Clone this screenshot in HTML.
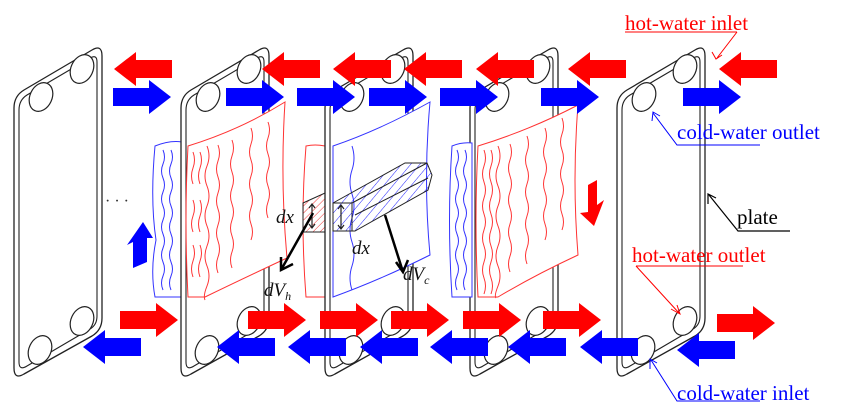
<!DOCTYPE html>
<html><head><meta charset="utf-8"><style>
html,body{margin:0;padding:0;background:#fff;}
svg{display:block;font-family:"Liberation Serif",serif;}
</style></head><body>
<svg width="850" height="419" viewBox="0 0 850 419" xmlns="http://www.w3.org/2000/svg">
<defs>
<path id="ar" d="M0,-9 H36 V-17 L58,0 L36,17 V9 H0 Z"/>
<g id="plate">
<path d="M0,62 Q0,50 10,44 L78,4 Q88,-2 88,10 L88,272 Q88,284 78,290 L10,328 Q0,334 0,322 Z" fill="#fff" stroke="#222" stroke-width="1.3"/>
<path d="M5,64 Q5,54 13,49 L76,12 Q83,8 83,16 L83,270 Q83,279 76,283 L13,320 Q5,325 5,316 Z" fill="none" stroke="#222" stroke-width="1.1"/>
<g fill="#fff" stroke="#222" stroke-width="1.2">
<ellipse cx="68" cy="23" rx="11" ry="15" transform="rotate(25 68 23)"/>
<ellipse cx="27" cy="51" rx="11" ry="15" transform="rotate(25 27 51)"/>
<ellipse cx="68" cy="275" rx="11" ry="15" transform="rotate(25 68 275)"/>
<ellipse cx="26" cy="304" rx="11" ry="15" transform="rotate(25 26 304)"/>
</g>
</g>
<pattern id="hr" width="5" height="5" patternUnits="userSpaceOnUse" patternTransform="rotate(45)"><line x1="0" y1="0" x2="0" y2="5" stroke="#e33" stroke-width="1"/></pattern>
<pattern id="hb" width="7" height="7" patternUnits="userSpaceOnUse" patternTransform="rotate(40)"><line x1="0" y1="0" x2="0" y2="7" stroke="#22f" stroke-width="1"/></pattern>
</defs>

<use href="#plate" x="14" y="46"/>
<path d="M155,146 Q170,140 182,142 L182,297 L155,297 Q150,270 156,240 Q150,200 155,146 Z" fill="#fff" stroke="#33f" stroke-width="1"/>
<g stroke="#33f" fill="none" stroke-width="1">
<path d="M163,150 q3,7 0,14 t0,14 t0,14 t0,14 t0,14 t0,14 t0,14 t0,14 t0,14 t0,14"/>
<path d="M171,150 q3,7 0,14 t0,14 t0,14 t0,14 t0,14 t0,14 t0,14 t0,14 t0,14 t0,14"/>
</g>
<use href="#plate" x="181" y="46"/>
<path d="M188,146 Q240,130 285,102 Q280,180 287,258 Q240,280 205,297 L188,297 Q184,220 188,146 Z" fill="#fff" stroke="#f33" stroke-width="1"/>
<g stroke="#f33" fill="none" stroke-width="1">
<path d="M207,146 q4,10 0,20 t0,20 t0,20 t0,20 t0,20 t0,20 t0,20 t-2,14"/>
<path d="M193,152 q3,8 0,16 t0,16"/><path d="M200,152 q3,8 0,16 t0,16"/>
<path d="M193,200 q3,8 0,16 t0,16"/><path d="M200,200 q3,8 0,16 t0,16"/>
<path d="M193,245 q3,8 0,16 t0,16"/><path d="M200,245 q3,8 0,16 t0,16"/>
<path d="M218,145 q3,8 0,16 t0,16 t0,16 t0,16 t0,16 t0,16 t0,16 t0,16"/>
<path d="M232,140 q3,8 0,16 t0,16 t0,16 t0,16 t0,16 t0,16 t0,16 t0,16"/>
<path d="M251,128 q3,8 0,16 t0,16 t0,16 t0,16 t0,16 t0,16 t0,16"/>
<path d="M268,122 q3,8 0,16 t0,16 t0,16 t0,16 t0,16 t0,16"/>
</g>
<path d="M306,146 Q315,144 325,146 L325,297 L306,297 Q300,220 306,146 Z" fill="#fff" stroke="#f33" stroke-width="1"/>
<use href="#plate" x="325" y="46"/>
<path d="M333,146 Q380,130 430,102 Q423,180 430,255 Q380,280 333,297 Z" fill="#fff" stroke="#33f" stroke-width="1"/>
<path d="M352,146 q4,12 0,24 t0,24 t0,24 t0,24 t0,24 t0,24" stroke="#33f" fill="none"/>
<path d="M303,203 L325,193 L325,232 L303,232 Z" fill="url(#hr)" stroke="#222"/>
<path d="M333,203 L405,163 L427,163 L432,175 L428,190 L355,231 L333,231 Z" fill="url(#hb)" stroke="#222"/>
<path d="M333,203 L352,203 L352,231 M352,203 L427,163 M355,215 L428,178" stroke="#222" fill="none"/>
<g stroke="#222" stroke-width="1.2" fill="none">
<path d="M312,205 V227 M309,208 L312,204 L315,208 M309,224 L312,228 L315,224"/>
<path d="M341,206 V228 M338,209 L341,205 L344,209 M338,225 L341,229 L344,225"/>
</g>
<g stroke="#000" stroke-width="2.5" fill="none">
<path d="M313,213 L281,270 M281,257 L281,270 L293,264"/>
<path d="M385,215 L403,272 M396,262 L403,272 L408,260"/>
</g>
<g font-style="italic" font-size="19" fill="#111">
<text x="276" y="223">dx</text>
<text x="352" y="254">dx</text>
<text x="264" y="296">dV<tspan font-size="12" dy="4">h</tspan></text>
<text x="403" y="280">dV<tspan font-size="12" dy="4">c</tspan></text>
</g>
<use href="#plate" x="470" y="46"/>
<path d="M452,146 Q462,142 472,143 L472,297 L452,297 Q447,220 452,146 Z" fill="#fff" stroke="#33f" stroke-width="1"/>
<g stroke="#33f" fill="none"><path d="M457,150 q3,7 0,14 t0,14 t0,14 t0,14 t0,14 t0,14 t0,14 t0,14 t0,14 t0,14"/><path d="M465,150 q3,7 0,14 t0,14 t0,14 t0,14 t0,14 t0,14 t0,14 t0,14 t0,14 t0,14"/></g>
<path d="M478,146 Q530,130 578,105 Q572,180 578,255 Q535,275 498,297 L478,297 Q474,220 478,146 Z" fill="#fff" stroke="#f33" stroke-width="1"/>
<g stroke="#f33" fill="none">
<path d="M498,146 q4,10 0,20 t0,20 t0,20 t0,20 t0,20 t0,20 t0,20 t-2,12"/>
<path d="M484,150 q3,8 0,16 t0,16 t0,16 t0,16 t0,16 t0,16 t0,16 t0,16 t0,16"/>
<path d="M491,150 q3,8 0,16 t0,16 t0,16 t0,16 t0,16 t0,16 t0,16 t0,16 t0,16"/>
<path d="M510,144 q3,8 0,16 t0,16 t0,16 t0,16 t0,16 t0,16 t0,16 t0,16"/>
<path d="M527,136 q3,8 0,16 t0,16 t0,16 t0,16 t0,16 t0,16 t0,16 t0,16"/>
<path d="M545,128 q3,8 0,16 t0,16 t0,16 t0,16 t0,16 t0,16 t0,16"/>
<path d="M562,118 q3,8 0,16 t0,16 t0,16 t0,16 t0,16 t0,16 t0,16"/>
</g>
<use href="#plate" x="617" y="46"/>

<text x="105" y="206" font-size="16" fill="#333">· · ·</text>
<path d="M133,268 V242 L127,245 L143,222 L153,238 L147,238 V262 Z" fill="#00f"/>
<path d="M597,180 V205 L604,200 L594,226 L580,213 L588,212 V185 Z" fill="#f00"/>

<g fill="#f00">
<use href="#ar" transform="translate(172,69) scale(-1,1)"/>
<use href="#ar" transform="translate(320,69) scale(-1,1)"/>
<use href="#ar" transform="translate(391,69) scale(-1,1)"/>
<use href="#ar" transform="translate(462,69) scale(-1,1)"/>
<use href="#ar" transform="translate(534,69) scale(-1,1)"/>
<use href="#ar" transform="translate(626,69) scale(-1,1)"/>
<use href="#ar" transform="translate(777,69) scale(-1,1)"/>
</g>
<g fill="#00f">
<use href="#ar" transform="translate(113,97)"/>
<use href="#ar" transform="translate(226,97)"/>
<use href="#ar" transform="translate(297,97)"/>
<use href="#ar" transform="translate(369,97)"/>
<use href="#ar" transform="translate(440,97)"/>
<use href="#ar" transform="translate(541,97)"/>
<use href="#ar" transform="translate(683,97)"/>
</g>
<g fill="#f00">
<use href="#ar" transform="translate(120,320)"/>
<use href="#ar" transform="translate(248,320)"/>
<use href="#ar" transform="translate(320,320)"/>
<use href="#ar" transform="translate(391,320)"/>
<use href="#ar" transform="translate(463,320)"/>
<use href="#ar" transform="translate(543,320)"/>
<use href="#ar" transform="translate(717,323)"/>
</g>
<g fill="#00f">
<use href="#ar" transform="translate(141,347) scale(-1,1)"/>
<use href="#ar" transform="translate(275,347) scale(-1,1)"/>
<use href="#ar" transform="translate(346,347) scale(-1,1)"/>
<use href="#ar" transform="translate(418,347) scale(-1,1)"/>
<use href="#ar" transform="translate(488,347) scale(-1,1)"/>
<use href="#ar" transform="translate(566,347) scale(-1,1)"/>
<use href="#ar" transform="translate(638,347) scale(-1,1)"/>
<use href="#ar" transform="translate(735,350) scale(-1,1)"/>
</g>

<g font-size="21">
<text x="625" y="30" fill="#f00">hot-water inlet</text>
<line x1="625" y1="32" x2="737" y2="32" stroke="#f00"/>
<path d="M737,32 L717,58 M712,52 L716,59 L722,55" stroke="#f00" fill="none"/>
<text x="677" y="139" fill="#00f">cold-water outlet</text>
<path d="M760,145 H677 L653,113 M652,121 L653,112 L660,116" stroke="#00f" fill="none"/>
<text x="737" y="224" fill="#000">plate</text>
<path d="M790,231 H738 L709,195 M708,204 L708,194 L716,198" stroke="#000" fill="none" stroke-width="1.2"/>
<text x="632" y="262" fill="#f00">hot-water outlet</text>
<path d="M636,266 H743 M636,266 L679,313 M671,309 L680,314 L677,305" stroke="#f00" fill="none"/>
<text x="677" y="400" fill="#00f">cold-water inlet</text>
<path d="M760,401 H677 L651,360 M650,369 L650,359 L657,363" stroke="#00f" fill="none"/>
</g>
</svg>
</body></html>
